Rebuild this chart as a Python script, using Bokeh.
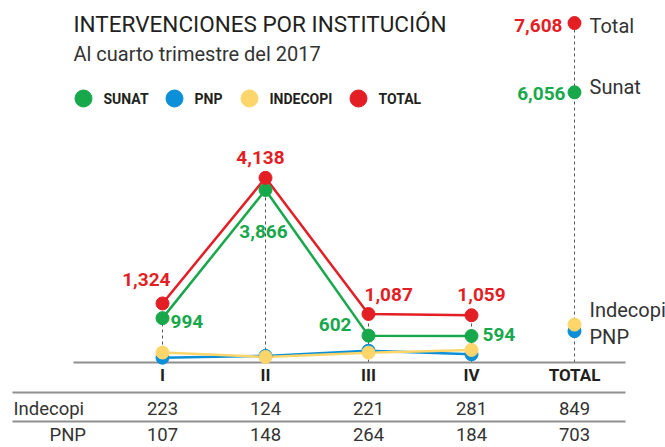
from bokeh.plotting import figure
from bokeh.models import Range1d
from bokeh.core.properties import value
from bokeh.embed import file_html
from bokeh.resources import INLINE

# ---------------- data ----------------
quarters = ["I", "II", "III", "IV"]
categories = ["I", "II", "III", "IV", "TOTAL"]
sunat = [994, 3866, 602, 594]
pnp = [107, 148, 264, 184]
indecopi = [223, 124, 221, 281]
total = [1324, 4138, 1087, 1059]
sunat_total = 6056
pnp_total = 703
indecopi_total = 849
grand_total = 7608

GREEN = "#17a84b"
BLUE = "#0a8fd8"
YELLOW = "#fdd66b"
RED = "#e31e25"
DARK = "#231f20"
FONT = value("Roboto")

W, H = 665, 447
K = 0.04462            # px per unit
ZERO_PY = 362          # page y of value 0
X0_PX = 162            # page x of first category
STEP = 103             # px between categories
x_start = -X0_PX / STEP
x_end = x_start + W / STEP
y_top = ZERO_PY / K
y_bot = (ZERO_PY - H) / K


def X(px):
    return x_start + px / STEP


def Y(py):
    return (ZERO_PY - py) / K


def fix(fs):
    # empirical shift of the svg alphabetic baseline
    return 0.32 * fs


p = figure(width=W, height=H, output_backend="svg", toolbar_location=None,
           x_range=Range1d(x_start, x_end), y_range=Range1d(y_bot, y_top),
           min_border=0, outline_line_color=None)
p.axis.visible = False
p.grid.visible = False
p.background_fill_color = "white"
p.border_fill_color = "white"

xi = list(range(len(quarters)))
xt = len(quarters)

# dashed drop lines
p.segment(x0=xi + [xt], y0=[0] * 5, x1=xi + [xt], y1=total + [grand_total],
          line_color="#555555", line_width=1, line_dash="3 3")

# baseline
p.segment(x0=[X(73)], y0=[0], x1=[X(625)], y1=[0], line_color="#8f8f8f", line_width=2)

# lines
p.line(xi, pnp, line_color=BLUE, line_width=2.5)
p.line(xi, indecopi, line_color=YELLOW, line_width=2.5)
p.line(xi, sunat, line_color=GREEN, line_width=2.5)
p.line(xi, total, line_color=RED, line_width=2.5)

MS = 13
p.scatter(xi + [xt], pnp + [pnp_total], size=MS, color=BLUE)
p.scatter(xi + [xt], indecopi + [indecopi_total], size=MS, color=YELLOW)
p.scatter(xi + [xt], sunat + [sunat_total], size=MS, color=GREEN)
p.scatter(xi + [xt], total + [grand_total], size=MS, color=RED)


def fmt(v):
    return f"{v:,}"


NUM_FS = 19
# value labels (red)
red_x = xi + [xt]
red_v = total + [grand_total]
red_dx = [8, -5, -4, 10, -12]
red_dy = [-18, -14, -13, -15, 9]
red_al = ["right", "center", "left", "center", "right"]
for x, v, dx, dy, al in zip(red_x, red_v, red_dx, red_dy, red_al):
    p.text(x=[x], y=[v], text=[fmt(v)], x_offset=dx, y_offset=dy - fix(NUM_FS),
           text_align=al, text_baseline="alphabetic", text_font=FONT,
           text_font_size=f"{NUM_FS}px", text_font_style="bold", text_color=RED)

grn_v = sunat + [sunat_total]
grn_dx = [8, -2, -17, 11, -9]
grn_dy = [9, 48, -5, 5, 7]
grn_al = ["left", "center", "right", "left", "right"]
for x, v, dx, dy, al in zip(red_x, grn_v, grn_dx, grn_dy, grn_al):
    p.text(x=[x], y=[v], text=[fmt(v)], x_offset=dx, y_offset=dy - fix(NUM_FS),
           text_align=al, text_baseline="alphabetic", text_font=FONT,
           text_font_size=f"{NUM_FS}px", text_font_style="bold", text_color=GREEN)

# names beside total column
NAME_FS = 20
names = ["Total", "Sunat", "Indecopi", "PNP"]
name_v = [grand_total, sunat_total, indecopi_total, pnp_total]
name_dy = [9, 1, -8, 12]
for n, v, dy in zip(names, name_v, name_dy):
    p.text(x=[xt], y=[v], text=[n], x_offset=15, y_offset=dy - fix(NAME_FS),
           text_align="left", text_baseline="alphabetic", text_font=FONT,
           text_font_size=f"{NAME_FS}px", text_color="#333333")

# category axis labels
p.text(x=xi + [xt], y=[Y(380 - fix(17))] * 5, text=categories, text_align="center",
       text_baseline="alphabetic", text_font=FONT, text_font_size="17px",
       text_font_style="bold", text_color=DARK)

# title, subtitle
p.text(x=[X(73)], y=[Y(31 - fix(22.5))], text=["INTERVENCIONES POR INSTITUCIÓN"],
       text_baseline="alphabetic", text_font=FONT, text_font_size="22.5px",
       text_color=DARK)
p.text(x=[X(73)], y=[Y(60 - fix(20))], text=["Al cuarto trimestre del 2017"],
       text_baseline="alphabetic", text_font=FONT, text_font_size="20px",
       text_color="#333333")

# legend
leg_names = ["SUNAT", "PNP", "INDECOPI", "TOTAL"]
leg_cols = [GREEN, BLUE, YELLOW, RED]
leg_px = [83, 174, 249, 358]
p.scatter([X(v) for v in leg_px], [Y(98)] * 4, size=17, color=leg_cols)
p.text(x=[X(v + 20) for v in leg_px], y=[Y(103 - fix(14))] * 4, text=leg_names,
       text_baseline="alphabetic", text_font=FONT, text_font_size="14px",
       text_font_style="bold", text_color=DARK)

# table
TAB_FS = 18.5
p.segment(x0=[X(12), X(12)], y0=[Y(392), Y(421)], x1=[X(625), X(625)],
          y1=[Y(392), Y(421)], line_color="#8f8f8f", line_width=2)
row1_y = Y(414 - fix(TAB_FS))
row2_y = Y(440 - fix(TAB_FS))
p.text(x=[X(13)], y=[row1_y], text=["Indecopi"], text_baseline="alphabetic",
       text_font=FONT, text_font_size=f"{TAB_FS}px", text_color="#333333")
p.text(x=[X(49)], y=[row2_y], text=["PNP"], text_baseline="alphabetic",
       text_font=FONT, text_font_size=f"{TAB_FS}px", text_color="#333333")
p.text(x=xi + [xt], y=[row1_y] * 5, text=[fmt(v) for v in indecopi + [indecopi_total]],
       text_align="center", text_baseline="alphabetic", text_font=FONT,
       text_font_size=f"{TAB_FS}px", text_color="#333333")
p.text(x=xi + [xt], y=[row2_y] * 5, text=[fmt(v) for v in pnp + [pnp_total]],
       text_align="center", text_baseline="alphabetic", text_font=FONT,
       text_font_size=f"{TAB_FS}px", text_color="#333333")

open("out.html", "w").write(file_html(p, INLINE))
